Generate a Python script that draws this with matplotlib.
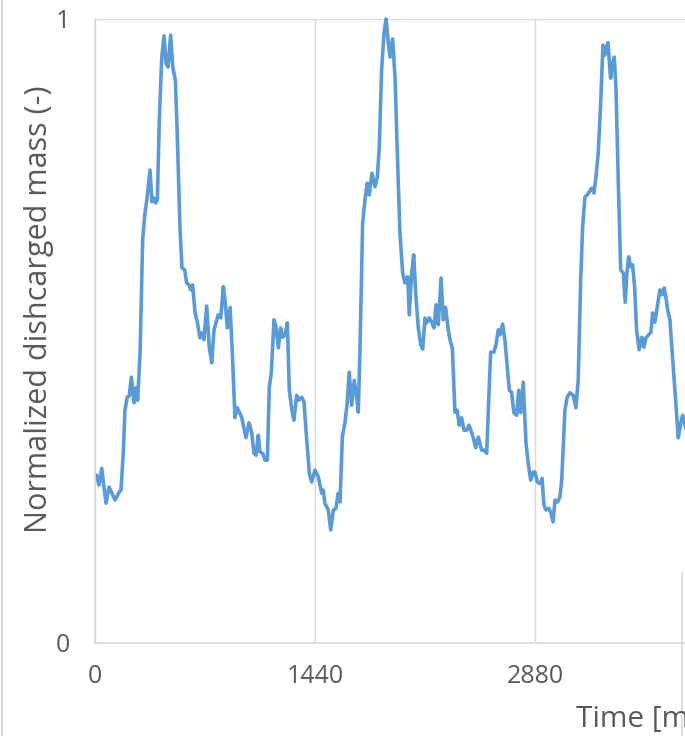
import matplotlib.pyplot as plt
from matplotlib.lines import Line2D

# time [min] and normalized discharged mass
time_min = [11, 26, 44, 72, 92, 131, 159, 170, 185, 196, 211, 224, 238, 255, 268, 279, 295, 312, 327, 342,
            360, 373, 386, 397, 408, 421, 437, 452, 465, 478, 495, 509, 526, 539, 556, 569, 587, 600, 615, 626,
            639, 655, 670, 687, 700, 713, 731, 748, 764, 779, 807, 823, 840, 853, 866, 884, 899, 916, 931, 960,
            988, 1008, 1026, 1041, 1054, 1069, 1080, 1098, 1113, 1128, 1141, 1154, 1172, 1185, 1200, 1215, 1229, 1244, 1259, 1272,
            1289, 1302, 1320, 1333, 1353, 1368, 1386, 1403, 1418, 1440, 1462, 1484, 1494, 1505, 1517, 1527, 1543, 1560, 1577, 1592,
            1604, 1619, 1636, 1651, 1664, 1680, 1697, 1713, 1723, 1734, 1752, 1767, 1782, 1795, 1813, 1833, 1848, 1861, 1876, 1892,
            1905, 1920, 1931, 1948, 1964, 1979, 1996, 2014, 2029, 2047, 2057, 2073, 2086, 2101, 2116, 2132, 2145, 2160, 2171, 2188,
            2204, 2219, 2232, 2247, 2265, 2280, 2295, 2312, 2328, 2339, 2356, 2371, 2384, 2400, 2415, 2433, 2448, 2466, 2476, 2492,
            2509, 2531, 2548, 2564, 2579, 2590, 2611, 2625, 2640, 2651, 2668, 2683, 2699, 2712, 2727, 2742, 2760, 2773, 2786, 2803,
            2821, 2836, 2852, 2869, 2880, 2895, 2906, 2917, 2926, 2939, 2952, 2971, 2985, 2998, 3011, 3028, 3043, 3055, 3065, 3076,
            3091, 3109, 3131, 3148, 3163, 3179, 3192, 3207, 3222, 3235, 3251, 3266, 3279, 3294, 3310, 3325, 3336, 3346, 3358, 3364,
            3375, 3386, 3399, 3410, 3425, 3441, 3458, 3471, 3482, 3493, 3506, 3519, 3532, 3545, 3562, 3580, 3593, 3606, 3624, 3639,
            3650, 3665, 3680, 3698, 3713, 3726, 3737, 3748, 3763, 3785, 3803, 3818, 3834, 3847, 3862, 3880]
mass_norm = [0.269, 0.253, 0.280, 0.224, 0.250, 0.229, 0.242, 0.245, 0.304, 0.373, 0.394, 0.396, 0.426, 0.385, 0.409, 0.389, 0.465, 0.646, 0.689, 0.715,
             0.758, 0.707, 0.713, 0.705, 0.710, 0.838, 0.939, 0.973, 0.929, 0.923, 0.974, 0.923, 0.902, 0.811, 0.667, 0.601, 0.598, 0.577, 0.574, 0.566,
             0.574, 0.529, 0.514, 0.489, 0.497, 0.486, 0.540, 0.474, 0.449, 0.502, 0.526, 0.521, 0.571, 0.545, 0.505, 0.538, 0.465, 0.361, 0.377, 0.362,
             0.329, 0.353, 0.337, 0.304, 0.301, 0.333, 0.306, 0.304, 0.293, 0.293, 0.410, 0.433, 0.518, 0.506, 0.473, 0.505, 0.490, 0.494, 0.513, 0.405,
             0.373, 0.357, 0.397, 0.389, 0.394, 0.386, 0.325, 0.272, 0.258, 0.277, 0.266, 0.240, 0.245, 0.224, 0.218, 0.213, 0.181, 0.213, 0.216, 0.240,
             0.226, 0.330, 0.353, 0.385, 0.434, 0.381, 0.421, 0.394, 0.370, 0.465, 0.673, 0.710, 0.737, 0.718, 0.753, 0.731, 0.747, 0.795, 0.918, 0.978,
             1.000, 0.962, 0.939, 0.968, 0.907, 0.785, 0.657, 0.593, 0.577, 0.587, 0.526, 0.593, 0.622, 0.554, 0.506, 0.478, 0.471, 0.521, 0.513, 0.521,
             0.514, 0.505, 0.542, 0.510, 0.585, 0.518, 0.538, 0.502, 0.481, 0.473, 0.370, 0.373, 0.349, 0.361, 0.341, 0.341, 0.349, 0.337, 0.329, 0.313,
             0.330, 0.309, 0.309, 0.304, 0.401, 0.466, 0.466, 0.478, 0.502, 0.494, 0.511, 0.486, 0.442, 0.405, 0.402, 0.369, 0.365, 0.405, 0.369, 0.418,
             0.321, 0.288, 0.261, 0.274, 0.274, 0.258, 0.256, 0.256, 0.264, 0.221, 0.213, 0.216, 0.208, 0.194, 0.229, 0.226, 0.234, 0.261, 0.314, 0.373,
             0.394, 0.401, 0.397, 0.377, 0.421, 0.582, 0.667, 0.715, 0.718, 0.723, 0.729, 0.721, 0.747, 0.785, 0.865, 0.958, 0.942, 0.954, 0.962, 0.939,
             0.905, 0.929, 0.939, 0.891, 0.742, 0.598, 0.593, 0.546, 0.593, 0.619, 0.603, 0.606, 0.571, 0.502, 0.470, 0.490, 0.474, 0.489, 0.494, 0.498,
             0.529, 0.514, 0.538, 0.566, 0.558, 0.569, 0.554, 0.534, 0.518, 0.442, 0.378, 0.329, 0.353, 0.365, 0.349, 0.335]
x_ticks = [0, 1440, 2880]
y_ticks = [0, 1]

plt.rcParams['font.family'] = ['Open Sans', 'DejaVu Sans']
grid_col = '#D9D9D9'
text_col = '#595959'

fig = plt.figure(figsize=(6.85, 7.36), dpi=100)
ax = fig.add_axes([95 / 685, 93 / 736, 590 / 685, 624 / 736])
ax.plot(time_min, mass_norm, color='#5B9BD5', linewidth=2.6, solid_joinstyle='round',
        solid_capstyle='round', clip_on=False)

ax.set_xlim(0, 3862)
ax.set_ylim(0, 1)
ax.set_xticks(x_ticks)
ax.set_yticks(y_ticks)
ax.tick_params(length=0, labelsize=18, labelcolor=text_col)
ax.tick_params(axis='x', pad=15)
ax.tick_params(axis='y', pad=18)
ax.grid(True, color=grid_col, linewidth=1)
ax.set_axisbelow(True)
for s in ['top', 'right']:
    ax.spines[s].set_visible(False)
for s in ['left', 'bottom']:
    ax.spines[s].set_color(grid_col)
    ax.spines[s].set_linewidth(1.2)

fig.text(39 / 685, 1 - 309 / 736, 'Normalized dishcarged mass (-)', rotation=90,
         ha='center', va='center', fontsize=22, color=text_col)
# the axis title runs past the right edge in the original screenshot
fig.text(576 / 685, 1 - 727 / 736, 'Time [min]', ha='left', va='baseline',
         fontsize=21.5, color=text_col)

# frame pieces visible at the edges of the screenshot
fig.add_artist(Line2D([1.5 / 685, 1.5 / 685], [0, 1], color=grid_col, linewidth=1.5))
fig.add_artist(Line2D([682 / 685, 682 / 685], [0, 1 - 573 / 736], color=grid_col, linewidth=1.2))

fig.savefig('out.png', dpi=100)
